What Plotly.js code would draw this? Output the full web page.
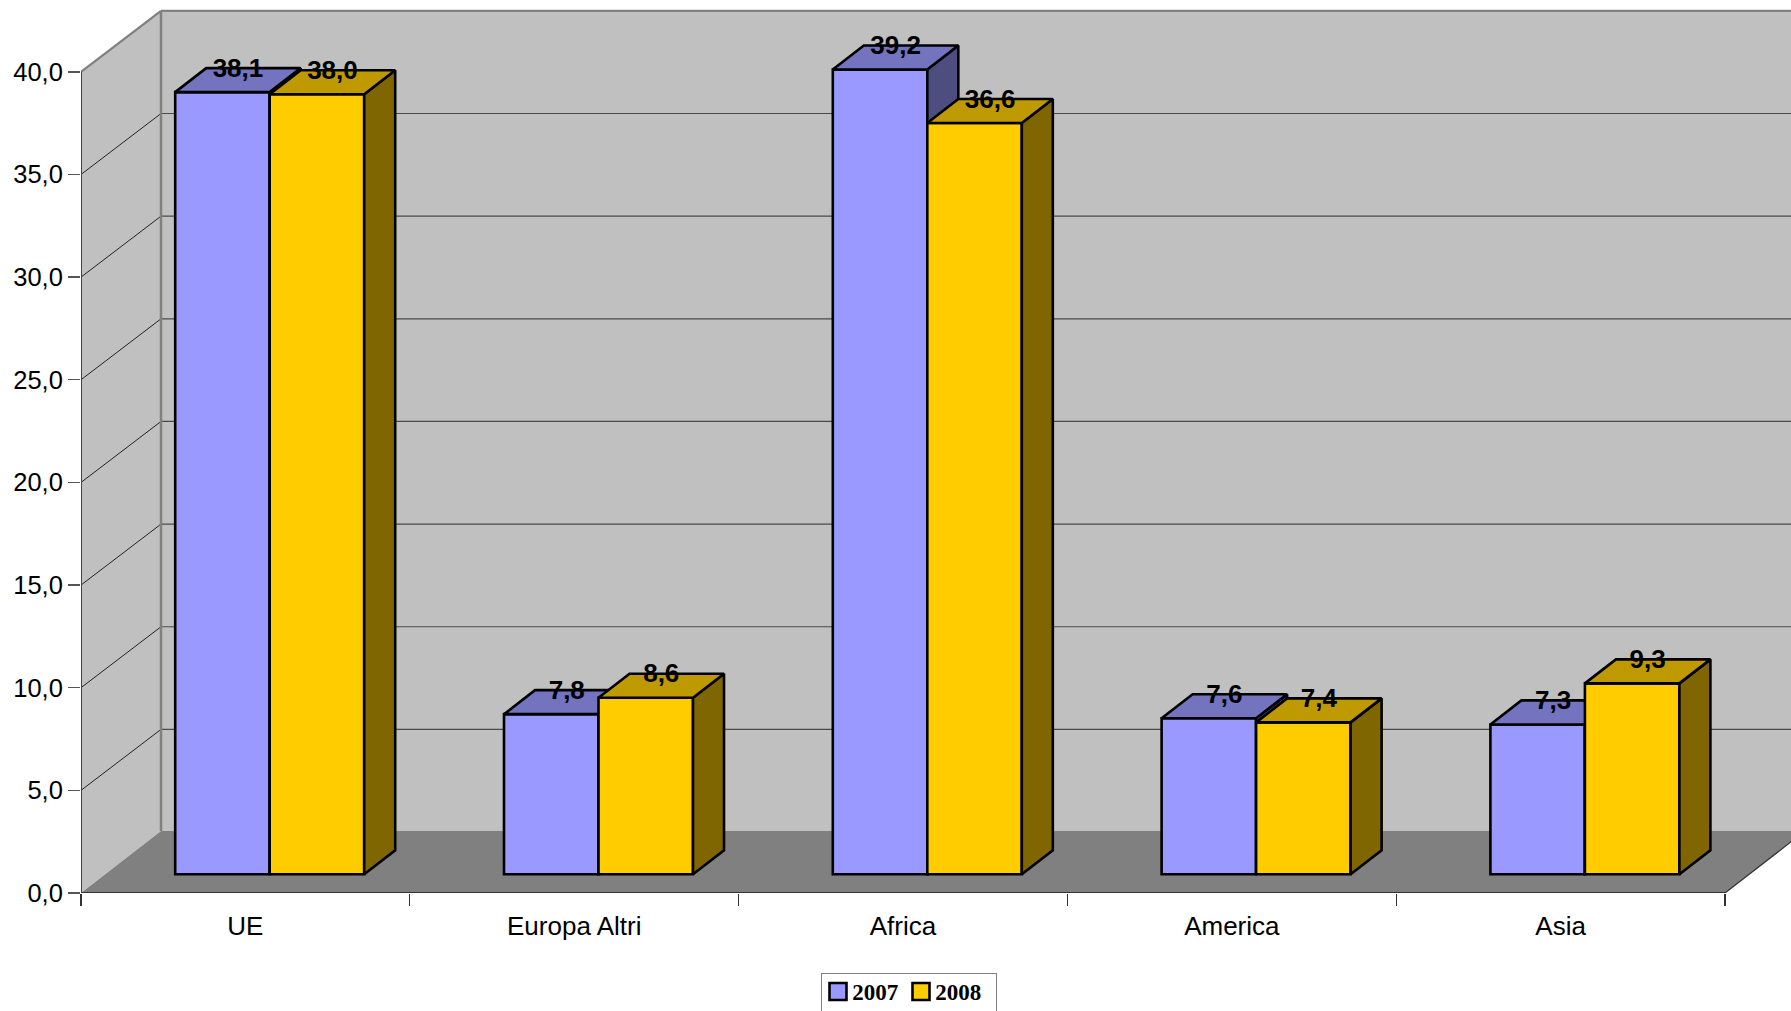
<!DOCTYPE html>
<html>
<head>
<meta charset="utf-8">
<script src="https://cdn.plot.ly/plotly-3.0.1.min.js"></script>
<style>html,body{margin:0;padding:0;background:#fff;overflow:hidden}#chart{width:1791px;height:1011px}</style>
</head>
<body>
<div id="chart"></div>
<script>
var categories = ['UE', 'Europa Altri', 'Africa', 'America', 'Asia'];
var series2007 = [38.1, 7.8, 39.2, 7.6, 7.3];
var series2008 = [38.0, 8.6, 36.6, 7.4, 9.3];
var yTicks = [0, 5, 10, 15, 20, 25, 30, 35, 40];

// 3D projection expressed in axis units
var wallDX = 0.2433, wallDY = 3.02, gridDrop = 0.05;
var frontDX = 0.0739, frontDY = 0.911;
var barDX = 0.0943, barDY = 1.17;
var barW = 0.2874;
var labelDrop = 0.11;
var nCat = categories.length;
var xMax = 5.2007, yMax = 43.5, yTop = 40;

var BLUE = '#9999FF', BLUE_TOP = '#7373BF', BLUE_SIDE = '#4D4D80';
var GOLD = '#FFCC00', GOLD_TOP = '#BF9900', GOLD_SIDE = '#806600';
var FS = 'Liberation Sans, Arial, sans-serif';
var EDGE = 2.6;

function fmt(v) { return v.toFixed(1).replace('.', ','); }
function idx() { return categories.map(function (_, i) { return i; }); }

function poly(xs, ys, fill, xa, ya) {
  return { type: 'scatter', mode: 'lines', x: xs, y: ys, fill: 'toself', fillcolor: fill,
    line: { color: '#000', width: EDGE }, hoverinfo: 'skip', showlegend: false, xaxis: xa, yaxis: ya };
}

function barSet(name, vals, shift, col, top, side, xa, ya) {
  var out = [];
  var left = idx().map(function (i) { return i + 0.5 + frontDX + (shift > 0 ? 0 : -barW); });
  out.push({ type: 'bar', name: name, x: left.map(function (l) { return l + barW / 2; }), y: vals,
    base: vals.map(function () { return frontDY; }), width: barW, hoverinfo: 'skip',
    marker: { color: col, line: { color: '#000', width: EDGE } }, xaxis: xa, yaxis: ya, showlegend: true });
  vals.forEach(function (v, i) {
    var l = left[i], r = l + barW, b = frontDY, t = frontDY + v;
    out.push(poly([r, r + barDX, r + barDX, r, r], [b, b + barDY, t + barDY, t, b], side, xa, ya));
    out.push(poly([l, l + barDX, r + barDX, r, l], [t, t + barDY, t + barDY, t, t], top, xa, ya));
  });
  return out;
}

function labelTrace(vals, shift) {
  return { type: 'scatter', mode: 'text', xaxis: 'x2', yaxis: 'y2', showlegend: false, hoverinfo: 'skip',
    x: idx().map(function (i) { return i + 0.5 + frontDX + (shift > 0 ? barW / 2 : -barW / 2) + barDX / 2; }),
    y: vals.map(function (v) { return v + frontDY + barDY - labelDrop; }),
    text: vals.map(fmt), textposition: 'middle center', cliponaxis: false,
    textfont: { family: FS, size: 26, color: '#000', weight: 700 } };
}

function rim(xs, ys, color, width) {
  return { type: 'scatter', mode: 'lines', x: xs, y: ys, cliponaxis: false, hoverinfo: 'skip',
    showlegend: false, line: { color: color, width: width }, xaxis: 'x', yaxis: 'y' };
}

var shapes = [];
function sh(path, fill) {
  shapes.push({ type: 'path', path: path, xref: 'x', yref: 'y', layer: 'below', fillcolor: fill,
    line: { color: 'rgba(0,0,0,0)', width: 0 } });
}
function ln(x0, y0, x1, y1, col, w) {
  shapes.push({ type: 'line', x0: x0, y0: y0, x1: x1, y1: y1, xref: 'x', yref: 'y', layer: 'below',
    line: { color: col, width: w } });
}
function P(a) { return 'M' + a.map(function (p) { return p[0] + ',' + p[1]; }).join('L') + 'Z'; }

var xb = nCat + wallDX;
var wallTop = yTop + 2.97;
sh(P([[wallDX, wallDY], [xb, wallDY], [xb, wallTop], [wallDX, wallTop]]), '#C0C0C0');
sh(P([[0, 0], [wallDX, wallDY], [wallDX, wallTop], [0, yTop]]), '#C0C0C0');
sh(P([[0, 0], [nCat, 0], [xb, wallDY], [wallDX, wallDY]]), '#808080');
yTicks.forEach(function (t) {
  if (t > 0 && t < yTop) {
    ln(wallDX, t + wallDY - gridDrop, xb, t + wallDY - gridDrop, '#4a4a4a', 1.2);
    ln(0, t, wallDX, t + wallDY - gridDrop, '#222', 1);
  }
});
ln(wallDX, wallTop, xb, wallTop, '#808080', 2.2);
ln(wallDX, wallDY, wallDX, wallTop, '#808080', 2.5);
ln(0, yTop, wallDX, wallTop, '#808080', 2.2);
ln(nCat, 0, xb, wallDY, '#333', 1.2);

var traces = [];
traces = traces.concat(barSet('2007', series2007, -1, BLUE, BLUE_TOP, BLUE_SIDE, 'x', 'y'));
traces.push(rim([0, 0], [0, yTop], '#444', 2));
traces.push(rim([0, nCat], [0, 0], '#333', 2));
traces = traces.concat(barSet('2008', series2008, 1, GOLD, GOLD_TOP, GOLD_SIDE, 'x2', 'y2'));
traces.push(labelTrace(series2007, -1));
traces.push(labelTrace(series2008, 1));

var layout = {
  width: 1791, height: 1011, paper_bgcolor: '#fff', plot_bgcolor: 'rgba(0,0,0,0)',
  margin: { l: 81, r: 0, t: 0, b: 118.3, pad: 0, autoexpand: false },
  separators: ',.', showlegend: true, barmode: 'overlay', shapes: shapes,
  xaxis: { range: [0, xMax], tickmode: 'array', tickvals: idx().map(function (i) { return i + 0.5; }),
    ticktext: categories, ticks: '', showgrid: false, zeroline: false, showline: false, fixedrange: true,
    ticklabelstandoff: 15, tickfont: { family: FS, size: 26, color: '#000' },
    minor: { tickmode: 'array', tickvals: [0, 1, 2, 3, 4, 5], ticks: 'outside', ticklen: 12, tickwidth: 1.3, tickcolor: '#333', showgrid: false } },
  yaxis: { range: [0, yMax], tickmode: 'array', tickvals: yTicks, tickformat: '.1f', ticks: 'outside', ticklen: 12,
    tickwidth: 1.3, tickcolor: '#555', showgrid: false, zeroline: false, showline: false, fixedrange: true,
    ticklabelstandoff: 0, tickfont: { family: FS, size: 25.5, color: '#000' } },
  xaxis2: { range: [0, xMax], overlaying: 'x', visible: false, fixedrange: true },
  yaxis2: { range: [0, yMax], overlaying: 'y', visible: false, fixedrange: true },
  legend: { orientation: 'h', x: (820.7 - 81) / 1710, xref: 'paper', xanchor: 'left', y: 1 - 972.2 / 892.7, yanchor: 'top',
    bgcolor: '#fff', bordercolor: '#808080', borderwidth: 1.5,
    font: { family: 'Liberation Serif, Times New Roman, serif', size: 23, color: '#000', weight: 700 } }
};

Plotly.newPlot('chart', traces, layout, { displayModeBar: false, staticPlot: true }).then(function (gd) {
  // Tune the legend's key size and spacing to the reference's tighter key.
  var items = gd.querySelectorAll('.legend .traces');
  var itemX = [0, 83];
  items.forEach(function (g, i) {
    var m = /translate\(([^,]+),\s*([^)]+)\)/.exec(g.getAttribute('transform') || '');
    var y = m ? parseFloat(m[2]) : 0;
    g.setAttribute('transform', 'translate(' + itemX[i] + ',' + (y - 4) + ')');
    g.querySelectorAll('.legendpoints path').forEach(function (p) {
      p.setAttribute('d', 'M8.5,8.5H-8.5V-8.5H8.5Z');
      p.setAttribute('transform', 'translate(17.3,0)');
    });
    g.querySelectorAll('text.legendtext').forEach(function (t) { t.setAttribute('x', 31.5); });
  });
  var bg = gd.querySelector('.legend .bg');
  if (bg) bg.setAttribute('width', 175);
});
</script>
</body>
</html>
